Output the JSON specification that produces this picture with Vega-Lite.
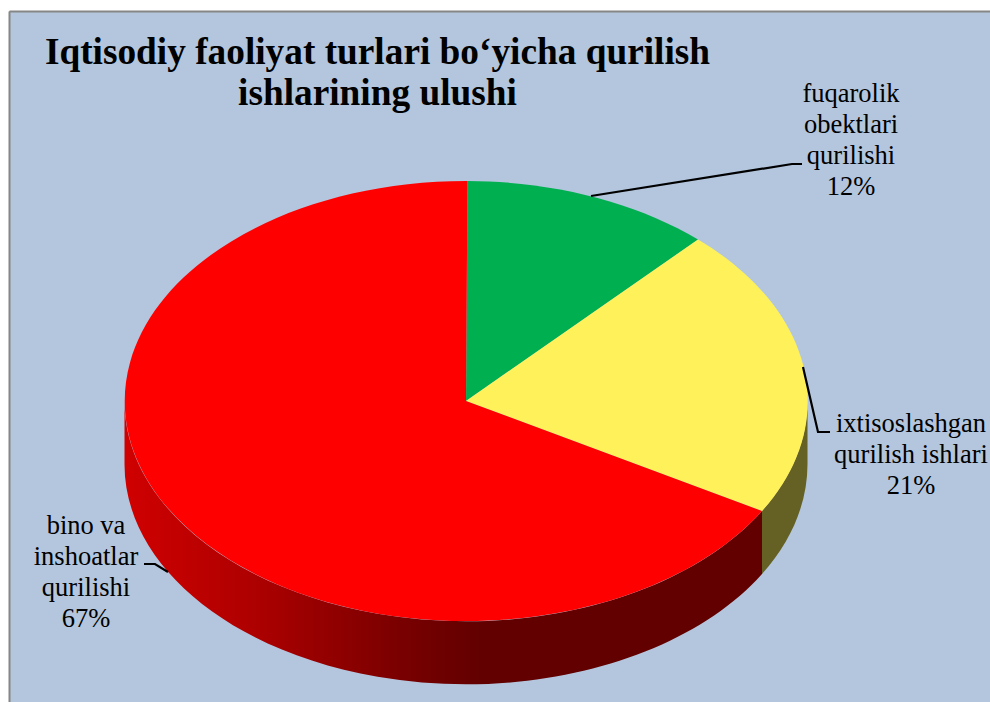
{
"$schema":"https://vega.github.io/schema/vega-lite/v6.json",
"width":981,"height":691,
"autosize":{"type":"none"},
"padding":{"left":9,"top":11,"right":0,"bottom":0},
"background":"white",
"view":{"fill":"#B3C6DD","stroke":null},
"title":{"text":["Iqtisodiy faoliyat turlari bo‘yicha qurilish","ishlarining ulushi"],"font":"Liberation Serif","fontSize":37.3,"fontWeight":"bold","color":"#000000","lineHeight":41,"anchor":"middle","frame":"group","dx":-122,"dy":102,"offset":0},
"datasets":{
"slices":[
{"category":"fuqarolik obektlari qurilishi","share":12,"cx":0,"cy":0,"label":"fuqarolik\nobektlari\nqurilishi\n12%","lx":3.85,"ly":3.07},
{"category":"ixtisoslashgan qurilish ishlari","share":21,"cx":0,"cy":0,"label":"ixtisoslashgan\nqurilish ishlari\n21%","lx":4.45,"ly":-0.23},
{"category":"bino va inshoatlar qurilishi","share":67,"cx":0,"cy":0,"label":"bino va\ninshoatlar\nqurilishi\n67%","lx":-3.8,"ly":-1.25}
],
"leaders":[
{"category":"fuqarolik obektlari qurilishi","seq":1,"x":1.25,"y":2.05},
{"category":"fuqarolik obektlari qurilishi","seq":2,"x":3.26,"y":2.37},
{"category":"fuqarolik obektlari qurilishi","seq":3,"x":3.36,"y":2.37},
{"category":"ixtisoslashgan qurilish ishlari","seq":1,"x":3.37,"y":0.34},
{"category":"ixtisoslashgan qurilish ishlari","seq":2,"x":3.52,"y":-0.31},
{"category":"ixtisoslashgan qurilish ishlari","seq":3,"x":3.64,"y":-0.31},
{"category":"bino va inshoatlar qurilishi","seq":1,"x":-2.98,"y":-1.71},
{"category":"bino va inshoatlar qurilishi","seq":2,"x":-3.11,"y":-1.63},
{"category":"bino va inshoatlar qurilishi","seq":3,"x":-3.22,"y":-1.63}
]
},
"data":{"name":"slices"},
"encoding":{
"x":{"type":"quantitative","scale":{"domain":[-4.57,5.24],"nice":false,"zero":false},"axis":{"orient":"top","domain":true,"domainColor":"#868686","domainWidth":2,"ticks":false,"labels":false,"grid":false,"title":null}},
"y":{"type":"quantitative","scale":{"domain":[-3.01,3.9],"nice":false,"zero":false},"axis":{"orient":"left","domain":true,"domainColor":"#868686","domainWidth":2,"ticks":false,"labels":false,"grid":false,"title":null}}
},
"layer":[
{"transform":[{"filter":"datum.share==21"}],
 "mark":{"type":"point","filled":true,"opacity":1,"size":4,"fill":"#656125","stroke":null,"shape":"M296 110 L296 173 A341.5 220 0 0 0 341.5 63 L341.5 0 A341.5 220 0 0 1 296 110 Z"},
 "encoding":{"x":{"field":"cx"},"y":{"field":"cy"}}},
{"transform":[{"filter":"datum.share==67"}],
 "mark":{"type":"point","filled":true,"opacity":1,"size":4,"stroke":null,
  "fill":{"gradient":"linear","x1":0,"x2":1,"y1":0,"y2":0,"stops":[{"offset":0,"color":"#D00000"},{"offset":0.2,"color":"#AE0000"},{"offset":0.43,"color":"#7A0000"},{"offset":0.56,"color":"#620000"},{"offset":1,"color":"#620000"}]},
  "shape":"M296 110 L296 173 A341.5 220 0 0 1 -341.5 63 L-341.5 0 A341.5 220 0 0 0 296 110 Z"},
 "encoding":{"x":{"field":"cx"},"y":{"field":"cy"}}},
{"mark":{"type":"point","filled":true,"opacity":1,"size":4},
 "encoding":{"x":{"field":"cx"},"y":{"field":"cy"},
  "shape":{"field":"category","type":"nominal","legend":null,"scale":{"domain":["fuqarolik obektlari qurilishi","ixtisoslashgan qurilish ishlari","bino va inshoatlar qurilishi"],"range":["M0 0 L1.5 -220 A341.5 220 0 0 1 232 -161.5 Z","M0 0 L232 -161.5 A341.5 220 0 0 1 296 110 Z","M0 0 L296 110 A341.5 220 0 1 1 1.5 -220 Z"]}},
  "color":{"field":"category","type":"nominal","legend":null,"scale":{"domain":["fuqarolik obektlari qurilishi","ixtisoslashgan qurilish ishlari","bino va inshoatlar qurilishi"],"range":["#00B050","#FFF15A","#FF0000"]}}}},
{"data":{"name":"leaders"},
 "mark":{"type":"line","color":"#000000","strokeWidth":2.2},
 "encoding":{"x":{"field":"x"},"y":{"field":"y"},"detail":{"field":"category"},"order":{"field":"seq"}}},
{"mark":{"type":"text","font":"Liberation Serif","fontSize":26.5,"lineHeight":31,"lineBreak":"\n","color":"#000000","align":"center","baseline":"middle"},
 "encoding":{"x":{"field":"lx"},"y":{"field":"ly"},"text":{"field":"label"}}}
]
}
